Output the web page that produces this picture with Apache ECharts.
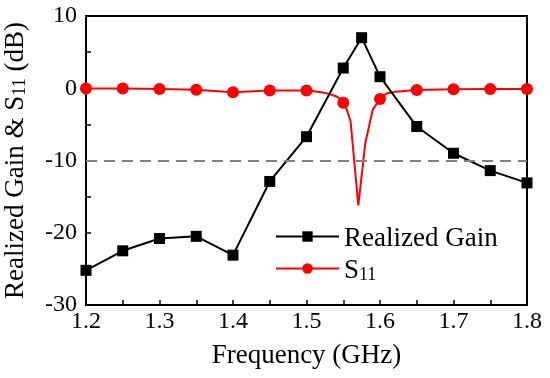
<!DOCTYPE html>
<html>
<head>
<meta charset="utf-8">
<script src="https://cdn.jsdelivr.net/npm/echarts@6/dist/echarts.min.js"></script>
<style>
html,body{margin:0;padding:0;background:#fff;}
#chart{width:550px;height:378px;}
</style>
</head>
<body>
<div id="chart"></div>
<script>
// Realized Gain (dB)
var gainFreq = [1.2, 1.25, 1.3, 1.35, 1.4, 1.45, 1.5, 1.55, 1.575, 1.6, 1.65, 1.7, 1.75, 1.8];
var gainValues = [-25.2, -22.5, -20.8, -20.5, -23.1, -12.9, -6.7, 2.8, 7.0, 1.6, -5.3, -9.0, -11.4, -13.1];

// S11 (dB), dense curve
var s11Freq = [1.2, 1.25, 1.3, 1.35, 1.4, 1.45, 1.5, 1.51, 1.52, 1.53, 1.54, 1.545, 1.55, 1.555, 1.56, 1.5705, 1.58, 1.59, 1.6, 1.605, 1.61, 1.62, 1.63, 1.64, 1.65, 1.7, 1.75, 1.8];
var s11Values = [-0.05, -0.05, -0.1, -0.2, -0.55, -0.3, -0.3, -0.4, -0.55, -0.75, -1.1, -1.4, -2.0, -3.0, -4.6, -16.2, -7.6, -3.0, -1.5, -0.95, -0.7, -0.5, -0.4, -0.3, -0.25, -0.15, -0.12, -0.1];
// frequencies where S11 markers are shown
var s11MarkerFreq = [1.2, 1.25, 1.3, 1.35, 1.4, 1.45, 1.5, 1.55, 1.6, 1.65, 1.7, 1.75, 1.8];

var xTicks = [1.2, 1.3, 1.4, 1.5, 1.6, 1.7, 1.8];
var yTicks = [-30, -20, -10, 0, 10];
var refLevel = -10;

var FONT = 'Liberation Serif';

var gainData = gainFreq.map(function (f, i) { return [f, gainValues[i]]; });
var s11Data = s11Freq.map(function (f, i) {
  var isMarker = s11MarkerFreq.some(function (m) { return Math.abs(m - f) < 1e-6; });
  return { value: [f, s11Values[i]], symbol: isMarker ? 'circle' : 'none' };
});

var chart = echarts.init(document.getElementById('chart'), null, { renderer: 'canvas' });

var subRich = {
  a: { fontFamily: FONT, fontSize: 27, color: '#000', lineHeight: 31, verticalAlign: 'bottom' },
  sub: { fontFamily: FONT, fontSize: 18, color: '#000', lineHeight: 18, padding: [11, 0, 0, 0], verticalAlign: 'bottom' }
};

chart.setOption({
  animation: false,
  backgroundColor: '#fff',
  grid: { left: 86, right: 23, top: 16, bottom: 73, containLabel: false, outerBoundsMode: 'none' },
  legend: {
    orient: 'vertical',
    left: 270,
    top: 220,
    itemWidth: 63,
    itemHeight: 13,
    itemGap: 3,
    data: ['Realized Gain', 'S11'],
    textStyle: { fontFamily: FONT, fontSize: 27, color: '#000', rich: subRich },
    formatter: function (name) {
      if (name === 'S11') return '{a|S}{sub|11}';
      return '{a|' + name + '}';
    }
  },
  xAxis: [{
    type: 'value',
    min: 1.2, max: 1.8, interval: 0.1,
    name: 'Frequency (GHz)',
    nameLocation: 'middle',
    nameGap: 37,
    nameTextStyle: { fontFamily: FONT, fontSize: 27, color: '#000' },
    axisLine: { show: true, onZero: false, lineStyle: { color: '#000', width: 2 } },
    axisTick: { show: true, inside: true, length: 5, lineStyle: { color: '#000', width: 1.5 } },
    minorTick: { show: true, splitNumber: 2, length: 5, lineStyle: { color: '#000', width: 1.5 } },
    splitLine: { show: false },
    axisLabel: {
      fontFamily: FONT, fontSize: 24, color: '#000', margin: 5,
      formatter: function (v) {
        for (var i = 0; i < xTicks.length; i++) if (Math.abs(xTicks[i] - v) < 1e-6) return xTicks[i].toFixed(1);
        return '';
      }
    }
  }, {
    type: 'value', position: 'top', min: 1.2, max: 1.8,
    axisLine: { show: true, onZero: false, lineStyle: { color: '#000', width: 2 } },
    axisTick: { show: false }, axisLabel: { show: false }, splitLine: { show: false }
  }],
  yAxis: [{
    type: 'value',
    min: -30, max: 10, interval: 10,
    name: '{a|Realized Gain & S}{sub|11}{a| (dB)}',
    nameLocation: 'middle',
    nameGap: 57,
    nameTextStyle: { fontFamily: FONT, fontSize: 27, color: '#000', rich: subRich },
    axisLine: { show: true, onZero: false, lineStyle: { color: '#000', width: 2 } },
    axisTick: { show: true, inside: true, length: 5, lineStyle: { color: '#000', width: 1.5 } },
    minorTick: { show: true, splitNumber: 2, length: 5, lineStyle: { color: '#000', width: 1.5 } },
    splitLine: { show: false },
    axisLabel: {
      fontFamily: FONT, fontSize: 24, color: '#000', margin: 9,
      formatter: function (v) {
        for (var i = 0; i < yTicks.length; i++) if (Math.abs(yTicks[i] - v) < 1e-6) return String(yTicks[i]);
        return '';
      }
    }
  }, {
    type: 'value', position: 'right', min: -30, max: 10,
    axisLine: { show: true, onZero: false, lineStyle: { color: '#000', width: 2 } },
    axisTick: { show: false }, axisLabel: { show: false }, splitLine: { show: false }
  }],
  series: [{
    name: 'S11',
    type: 'line',
    data: s11Data,
    symbol: 'circle',
    symbolSize: 12,
    showAllSymbol: true,
    color: '#ff0000',
    lineStyle: { color: '#ff0000', width: 2 },
    itemStyle: { color: '#ff0000' },
    z: 2,
    markLine: {
      silent: true,
      symbol: ['none', 'none'],
      label: { show: false },
      lineStyle: { color: '#808080', type: [11, 7], width: 2 },
      data: [{ yAxis: refLevel }]
    }
  }, {
    name: 'Realized Gain',
    type: 'line',
    data: gainData,
    symbol: 'rect',
    symbolSize: 11,
    color: '#000',
    lineStyle: { color: '#000', width: 2 },
    itemStyle: { color: '#000' },
    z: 3
  }]
});
</script>
</body>
</html>
